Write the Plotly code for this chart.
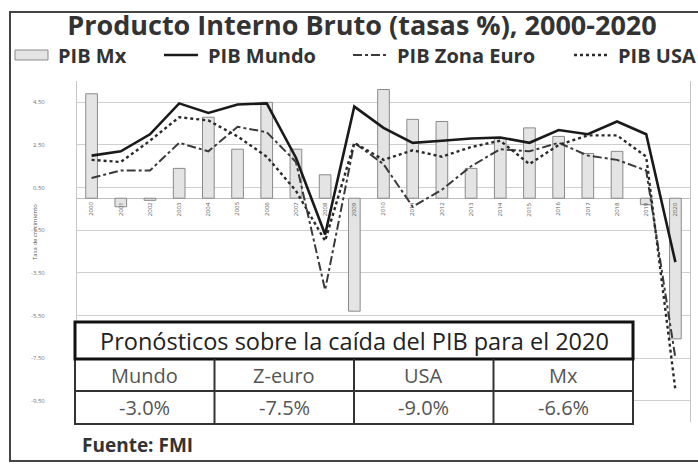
import plotly.graph_objects as go

# ---------------- data ----------------
years = [2000, 2001, 2002, 2003, 2004, 2005, 2006, 2007, 2008, 2009, 2010,
         2011, 2012, 2013, 2014, 2015, 2016, 2017, 2018, 2019, 2020]
pib_mx = [4.9, -0.4, -0.1, 1.4, 3.8, 2.3, 4.5, 2.3, 1.1, -5.3, 5.1,
          3.7, 3.6, 1.4, 2.8, 3.3, 2.9, 2.1, 2.2, -0.3, -6.6]
pib_mundo = [2.0, 2.2, 3.0, 4.45, 4.0, 4.4, 4.45, 1.9, -1.7, 4.3, 3.3,
             2.6, 2.7, 2.8, 2.85, 2.6, 3.2, 3.0, 3.6, 3.0, -3.0]
pib_euro = [0.95, 1.3, 1.3, 2.6, 2.2, 3.35, 3.1, 1.7, -4.3, 2.6, 1.6,
            -0.4, 0.4, 1.5, 2.3, 2.2, 2.6, 2.0, 1.8, 1.3, -7.5]
pib_usa = [1.8, 1.7, 2.7, 3.8, 3.65, 2.9, 1.95, 0.35, -2.0, 2.6, 1.8,
           2.25, 1.95, 2.4, 2.7, 1.6, 2.5, 2.95, 2.95, 1.95, -9.0]

y_ticks = [4.5, 2.5, 0.5, -1.5, -3.5, -5.5, -7.5, -9.5]

table_title = "Pronósticos sobre la caída del PIB para el 2020"
table_heads = ["Mundo", "Z-euro", "USA", "Mx"]
table_vals = ["-3.0%", "-7.5%", "-9.0%", "-6.6%"]

FONT = "Open Sans"

# ---------------- styles ----------------
BAR_FILL, BAR_LINE = "#e4e4e4", "#8a8a8a"
MUNDO = dict(color="#1a1a1a", width=2.6)
EURO = dict(color="#3a3a3a", width=2, dash="9px,3px,3px,3px")
USA = dict(color="#2a2a2a", width=2.4, dash="dot")

# ---------------- geometry helpers (pixel -> paper) ----------------
W, H = 698, 465
L, R, T, B = 77, 690, 81, 422


def px(x):
    return (x - L) / (R - L)


def py(y):
    return (B - y) / (B - T)


fig = go.Figure()

fig.add_trace(go.Bar(
    x=years, y=pib_mx, name="PIB Mx", width=0.4, showlegend=False,
    marker=dict(color=BAR_FILL, line=dict(color=BAR_LINE, width=1)),
))
fig.add_trace(go.Scatter(x=years, y=pib_mundo, name="PIB Mundo", mode="lines",
                         line=MUNDO, showlegend=False))
fig.add_trace(go.Scatter(x=years, y=pib_euro, name="PIB Zona Euro", mode="lines",
                         line=EURO, showlegend=False))
fig.add_trace(go.Scatter(x=years, y=pib_usa, name="PIB USA", mode="lines",
                         line=USA, showlegend=False))

annotations = []
shapes = []

# rotated year labels just under the zero line
for yr in years:
    annotations.append(dict(
        x=yr, y=0, xref="x", yref="y", text=str(yr), textangle=-90,
        showarrow=False, xanchor="center", yanchor="top", yshift=-2,
        font=dict(family=FONT, size=6, color="#555"),
    ))

# axis title
annotations.append(dict(
    x=px(35), y=py(232), xref="paper", yref="paper", text="Tasa de crecimiento",
    xanchor="center", yanchor="middle",
    textangle=-90, showarrow=False, font=dict(family=FONT, size=6, color="#555"),
))

# ---------------- custom legend row ----------------
LEG_Y = 55
leg_font = dict(family=FONT, size=20, color="#333")
shapes.append(dict(type="rect", xref="paper", yref="paper",
                   x0=px(15), x1=px(48), y0=py(LEG_Y + 5), y1=py(LEG_Y - 5),
                   fillcolor=BAR_FILL, line=dict(color=BAR_LINE, width=1)))
legend_items = [("PIB Mx", None, 56),
                ("PIB Mundo", MUNDO, 206),
                ("PIB Zona Euro", EURO, 395),
                ("PIB USA", USA, 616)]
for name, style, tx in legend_items:
    if style is not None:
        shapes.append(dict(type="line", xref="paper", yref="paper",
                           x0=px(tx - 42), x1=px(tx - 8), y0=py(LEG_Y), y1=py(LEG_Y),
                           line=style))
    annotations.append(dict(x=px(tx), y=py(LEG_Y), xref="paper", yref="paper",
                            text=f"<b>{name}</b>", showarrow=False,
                            xanchor="left", yanchor="middle", font=leg_font))

# outer frame
shapes.append(dict(type="rect", xref="paper", yref="paper",
                   x0=px(10), x1=px(700), y0=py(461), y1=py(12),
                   line=dict(color="#444", width=2), fillcolor="rgba(0,0,0,0)",
                   layer="below"))

# ---------------- forecast table ----------------
tx0, tx1 = 75, 633
ty0, ty1, ty2, ty3 = 322, 359, 391, 424
shapes.append(dict(type="rect", xref="paper", yref="paper",
                   x0=px(tx0), x1=px(tx1), y0=py(ty3), y1=py(ty0),
                   fillcolor="white", line=dict(color="#333", width=2), layer="above"))
shapes.append(dict(type="rect", xref="paper", yref="paper",
                   x0=px(tx0), x1=px(tx1), y0=py(ty1), y1=py(ty0),
                   fillcolor="rgba(0,0,0,0)", line=dict(color="#111", width=3), layer="above"))
shapes.append(dict(type="line", xref="paper", yref="paper",
                   x0=px(tx0), x1=px(tx1), y0=py(ty2), y1=py(ty2),
                   line=dict(color="#333", width=2), layer="above"))
colw = (tx1 - tx0) / len(table_heads)
for i in range(1, len(table_heads)):
    xx = tx0 + i * colw
    shapes.append(dict(type="line", xref="paper", yref="paper",
                       x0=px(xx), x1=px(xx), y0=py(ty3), y1=py(ty1),
                       line=dict(color="#333", width=2), layer="above"))

annotations.append(dict(
    x=px((tx0 + tx1) / 2), y=py((ty0 + ty1) / 2), xref="paper", yref="paper",
    text=table_title, showarrow=False, xanchor="center", yanchor="middle",
    font=dict(family=FONT, size=23.5, color="#222"),
))
for i, (hd, vl) in enumerate(zip(table_heads, table_vals)):
    cx = tx0 + (i + 0.5) * colw
    annotations.append(dict(
        x=px(cx), y=py((ty1 + ty2) / 2), xref="paper", yref="paper", text=hd,
        xanchor="center", yanchor="middle",
        showarrow=False, font=dict(family=FONT, size=20, color="#555"),
    ))
    annotations.append(dict(
        x=px(cx), y=py((ty2 + ty3) / 2), xref="paper", yref="paper", text=vl,
        xanchor="center", yanchor="middle",
        showarrow=False, font=dict(family=FONT, size=20, color="#555"),
    ))

annotations.append(dict(
    x=px(80), y=py(445), xref="paper", yref="paper", text="<b>Fuente: FMI</b>",
    xanchor="left", yanchor="middle", showarrow=False,
    font=dict(family=FONT, size=19, color="#333"),
))

fig.update_layout(
    width=W, height=H,
    margin=dict(l=L, r=W - R, t=T, b=H - B, autoexpand=False),
    paper_bgcolor="white", plot_bgcolor="white",
    font=dict(family=FONT, color="#333"),
    title=dict(text="<b>Producto Interno Bruto (tasas %), 2000-2020</b>",
               xref="container", yref="container", x=362 / W, y=1 - 26 / H,
               xanchor="center", yanchor="middle",
               font=dict(family=FONT, size=27, color="#333")),
    showlegend=False,
    xaxis=dict(range=[1999.5, 2020.5], showticklabels=False, showgrid=False,
               zeroline=False, showline=False, fixedrange=True),
    yaxis=dict(range=[-10.5, 5.5], tickvals=y_ticks,
               ticktext=[f"{v:.2f}" for v in y_ticks],
               showgrid=True, gridcolor="#cfcfcf", gridwidth=1,
               zeroline=True, zerolinecolor="#bdbdbd", zerolinewidth=1,
               showline=True, linecolor="#c4c4c4", linewidth=1, mirror=True,
               ticks="", ticklabelstandoff=30, fixedrange=True,
               tickfont=dict(family=FONT, size=6, color="#777")),
    bargap=0.6,
    annotations=annotations,
    shapes=shapes,
)

fig.write_html("out.html", config={"displayModeBar": False},
               post_script="document.body.style.margin='0px';")
